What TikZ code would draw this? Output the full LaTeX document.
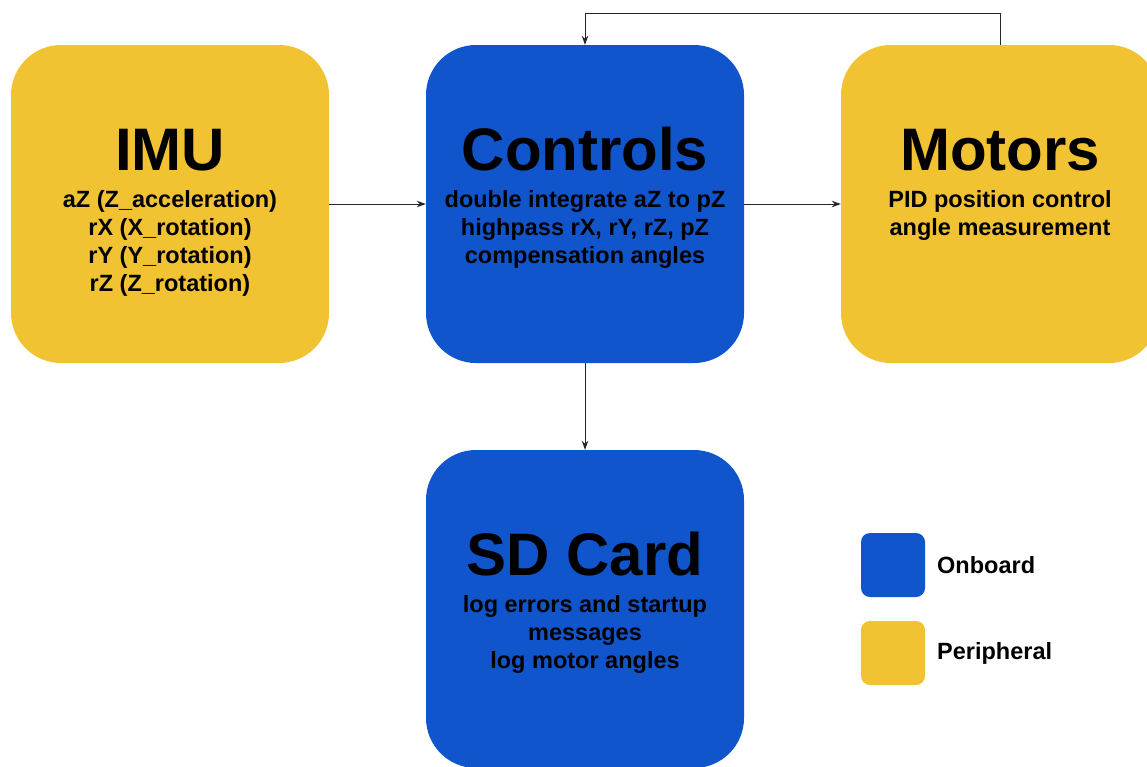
\documentclass[tikz,border=0pt]{standalone}
\usepackage{fontspec}
\setmainfont{Liberation Sans}
\usetikzlibrary{arrows.meta}
\definecolor{onboard}{HTML}{1155CC}
\definecolor{periph}{HTML}{F1C232}
\tikzset{
  blockbox/.style={minimum width=318pt, minimum height=318pt, inner sep=0pt, rounded corners=50pt, draw=none},
  keybox/.style={minimum width=64pt, minimum height=64pt, inner sep=0pt, rounded corners=9pt, draw=none},
  titletext/.style={anchor=base, inner sep=0pt, font=\bfseries\fontsize{60}{60}\selectfont},
  bodytext/.style={anchor=base, inner sep=0pt, align=center, font=\bfseries\fontsize{23.5}{28}\selectfont},
  keytext/.style={anchor=west, inner sep=0pt, font=\bfseries\fontsize{23.5}{28}\selectfont},
  conn/.style={draw=black!85, line width=1pt, -{Stealth[length=9pt,width=6.5pt]}}
}
\begin{document}
\begin{tikzpicture}[x=1pt,y=-1pt]
\useasboundingbox (0,0) rectangle (1147,766);
% blocks
\node[blockbox, fill=periph] (imu) at (170,204) {};
\node[blockbox, fill=onboard] (ctrl) at (585,204) {};
\node[blockbox, fill=periph] (mot) at (1000,204) {};
\node[blockbox, fill=onboard] (sd) at (585,609) {};
% titles
\node[titletext] (imuT) at (170,170) {IMU};
\node[titletext] (ctrlT) at (585,170) {Controls};
\node[titletext] (motT) at (1000,170) {Motors};
\node[titletext] (sdT) at (585,575) {SD Card};
% bodies (base = baseline of the last line)
\node[bodytext] (imuB) at (170,291) {aZ (Z\_acceleration)\\rX (X\_rotation)\\rY (Y\_rotation)\\rZ (Z\_rotation)};
\node[bodytext] (ctrlB) at (585,263) {double integrate aZ to pZ\\highpass rX, rY, rZ, pZ\\compensation angles};
\node[bodytext] (motB) at (1000,235) {PID position control\\angle measurement};
\node[bodytext] (sdB) at (585,668) {log errors and startup\\messages\\log motor angles};
% connectors
\draw[conn] (imu.east) -- (ctrl.west);
\draw[conn] (ctrl.east) -- (mot.west);
\draw[conn] (ctrl.south) -- (sd.north);
\coordinate (fbR) at (1000,13);
\coordinate (fbL) at (585,13);
\draw[conn] (mot.north) -- (fbR) -- (fbL) -- (ctrl.north);
% legend
\node[keybox, fill=onboard] (keyOn) at (893,565) {};
\node[keybox, fill=periph] (keyPe) at (893,653) {};
\node[keytext] (keyOnT) at (937,565) {Onboard};
\node[keytext] (keyPeT) at (937,653) {Peripheral};
\end{tikzpicture}
\end{document}
